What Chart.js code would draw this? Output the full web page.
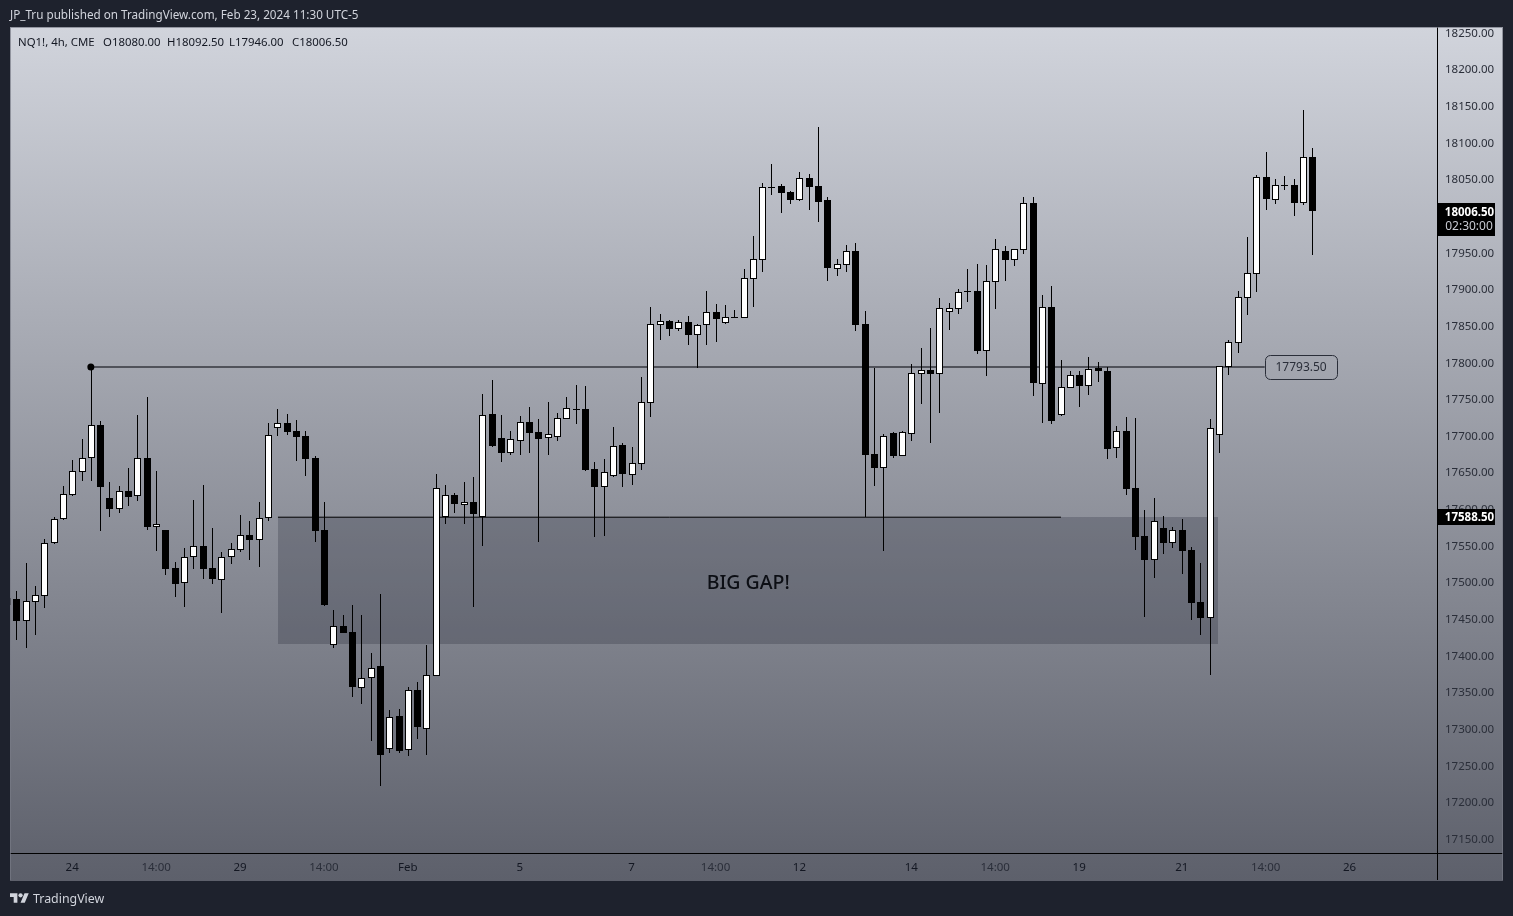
<!DOCTYPE html>
<html>
<head>
<meta charset="utf-8">
<title>NQ1! 4h</title>
<script src="https://cdn.jsdelivr.net/npm/chart.js@4"></script>
<style>
  html, body { margin: 0; padding: 0; background: #1e222d; overflow: hidden; }
  body { width: 1513px; height: 916px; position: relative; font-family: "Noto Sans", sans-serif; }
  canvas { position: absolute; left: 0; top: 0; }
  .txt { position: absolute; white-space: nowrap; line-height: 14px; }
  #header { left: 10px; top: 7px; font-size: 11.7px; color: #d1d4dc; }
  .legend { top: 35px; font-size: 11.4px; color: #131722; }
  #brand { left: 33px; top: 892px; font-size: 12.4px; color: #d1d4dc; }
  #logo { position: absolute; left: 10px; top: 893px; }
</style>
</head>
<body>
<canvas id="chart" width="1513" height="916"></canvas>
<div class="txt" id="header">JP_Tru published on TradingView.com, Feb 23, 2024 11:30 UTC-5</div>
<div class="txt legend" style="left:18px">NQ1!, 4h, CME</div>
<div class="txt legend" style="left:103px">O18080.00</div>
<div class="txt legend" style="left:167px">H18092.50</div>
<div class="txt legend" style="left:229px">L17946.00</div>
<div class="txt legend" style="left:292px">C18006.50</div>
<svg id="logo" width="19" height="10" viewBox="0 4 36 18"><path fill="#d1d4dc" d="M14 22H7V11H0V4h14v18zM28 22h-8l7.5-18h8L28 22z"/><circle fill="#d1d4dc" cx="20" cy="8" r="4"/></svg>
<div class="txt" id="brand">TradingView</div>
<script>
// =====================================================
// DATA
// =====================================================

const opens = [
  17478, 17477, 17447, 17473, 17481, 17553.5, 17586, 17619, 17650, 17669,
  17714.5, 17615, 17599.5, 17624.5, 17617.5, 17669, 17575, 17571, 17519, 17498.5,
  17534, 17549, 17519, 17503, 17534, 17543.5, 17564, 17557.5, 17587.5, 17710,
  17717, 17706, 17699.5, 17669, 17571, 17414, 17440, 17432, 17355.5, 17369,
  17385.5, 17272, 17317, 17271, 17352.5, 17299.5, 17372, 17589, 17619, 17605,
  17609.5, 17589, 17729.5, 17696.5, 17676, 17692.5, 17718.5, 17704.5, 17696.5, 17698,
  17722.5, 17736, 17736, 17654, 17629.5, 17644.5, 17687, 17646, 17661, 17744.5,
  17851, 17856, 17845.5, 17855, 17837, 17851, 17868.5, 17853.5, 17861.5, 17860.5,
  17913.5, 17939.5, 18039, 18040.5, 18032.5, 18021.5, 18051.5, 18040.5, 18021.5, 17927,
  17932.5, 17952, 17852, 17674.5, 17655.5, 17703.5, 17672, 17702, 17784, 17789.5,
  17784, 17868.5, 17872.5, 17897, 17897, 17815.5, 17909.5, 17952, 17939.5, 17953,
  18017.5, 17770.5, 17875.5, 17728, 17765, 17782.5, 17767.5, 17792, 17788, 17683,
  17706, 17628.5, 17563, 17530, 17574, 17553.5, 17571, 17543.5, 17473, 17451,
  17700.5, 17793.5, 17826, 17887.5, 17921, 18053, 18021.5, 18042, 18042, 18017.5,
  18080
];
const highs = [
  17480, 17488, 17526, 17494.5, 17559, 17589, 17631, 17666.5, 17695, 17793.5,
  17720, 17636.5, 17631, 17655.5, 17728, 17752.5, 17651.5, 17571.5, 17527.5, 17546.5,
  17612, 17632.5, 17574, 17541, 17553.5, 17591.5, 17583.5, 17609.5, 17717, 17736,
  17729.5, 17721, 17706, 17672, 17609.5, 17462, 17455, 17468.5, 17455, 17403.5,
  17483.5, 17325.5, 17327, 17356.5, 17363.5, 17414, 17647.5, 17632.5, 17621.5, 17636.5,
  17643.5, 17756.5, 17775.5, 17728, 17706, 17726.5, 17739, 17722.5, 17745.5, 17730.5,
  17752.5, 17769, 17767.5, 17664, 17668, 17711.5, 17689.5, 17684.5, 17780, 17875.5,
  17866, 17857.5, 17857.5, 17863, 17852, 17897, 17879.5, 17878, 17871.5, 17927,
  17972.5, 18044.5, 18070.5, 18043, 18033.5, 18059.5, 18057, 18121, 18025.5, 17941,
  17960, 17962.5, 17870, 17792, 17702, 17704.5, 17706, 17797.5, 17819.5, 17846.5,
  17887.5, 17881, 17900, 17927, 17934, 17932.5, 17968, 17958.5, 17955, 18025.5,
  18025.5, 17891.5, 17904, 17803, 17788, 17788, 17807, 17800.5, 17793.5, 17713,
  17725, 17724, 17598.5, 17615, 17590, 17575, 17586, 17548, 17526, 17722.5,
  17795, 17830.5, 17897, 17971, 18055.5, 18087, 18050, 18054, 18050, 18144,
  18092.5
];
const lows = [
  17467, 17421, 17410, 17427.5, 17464.5, 17552, 17584.5, 17617.5, 17638, 17638,
  17570, 17589, 17594.5, 17604, 17610.5, 17571, 17542.5, 17509.5, 17479.5, 17466,
  17518, 17504, 17497.5, 17458, 17524.5, 17541, 17530, 17520.5, 17583.5, 17699.5,
  17700.5, 17665, 17644.5, 17554.5, 17467.5, 17410, 17430, 17343, 17333.5, 17283,
  17221.5, 17266.5, 17266.5, 17262.5, 17285.5, 17264, 17371.5, 17579, 17594.5, 17579,
  17466, 17549, 17684.5, 17664, 17673.5, 17673.5, 17676, 17554.5, 17673.5, 17692.5,
  17722, 17715.5, 17651.5, 17561.5, 17563, 17644, 17629.5, 17632.5, 17653, 17725,
  17830.5, 17836, 17842.5, 17823.5, 17792, 17823.5, 17827.5, 17852, 17861, 17860,
  17875.5, 17923, 18028, 18003.5, 18016, 18020, 18007.5, 17991.5, 17911, 17917.5,
  17923, 17842.5, 17589, 17631, 17542.5, 17669, 17671.5, 17692.5, 17743, 17689.5,
  17730.5, 17844, 17866, 17882, 17811, 17781, 17872.5, 17911, 17931.5, 17947.5,
  17754, 17717, 17715.5, 17726.5, 17764.5, 17739, 17755.5, 17773, 17668, 17669,
  17619, 17543.5, 17452.5, 17505.5, 17538.5, 17546.5, 17511, 17448, 17427.5, 17373,
  17676, 17782.5, 17812.5, 17864.5, 17896, 18007.5, 18016, 18035, 18000, 18014.5,
  17946
];
const closes = [
  17469, 17447, 17474, 17482.5, 17553.5, 17586, 17620, 17651.5, 17669, 17714.5,
  17629.5, 17599.5, 17624.5, 17616, 17669, 17575, 17579, 17518, 17497.5, 17534,
  17549, 17518, 17504, 17534, 17545, 17564, 17557.5, 17587.5, 17700.5, 17717,
  17704.5, 17698, 17668, 17569.5, 17468.5, 17440, 17430.5, 17356.5, 17369, 17383,
  17264, 17316, 17269.5, 17352.5, 17302, 17373, 17628.5, 17619, 17606.5, 17609.5,
  17593, 17728, 17685.5, 17676, 17695, 17718.5, 17703.5, 17695, 17702, 17724,
  17737.5, 17736.5, 17653, 17629.5, 17650, 17685.5, 17647.5, 17662.5, 17745.5, 17852,
  17856, 17845.5, 17855, 17837, 17851, 17868.5, 17859, 17861.5, 17861.5, 17915,
  17941, 18039, 18039.5, 18031, 18021.5, 18051.5, 18039, 18018.5, 17928.5, 17934,
  17952, 17851, 17673.5, 17655.5, 17699.5, 17672, 17704.5, 17785.5, 17789.5, 17784,
  17874, 17874, 17896, 17897.5, 17815.5, 17911, 17954.5, 17939.5, 17954.5, 18017.5,
  17771.5, 17875.5, 17719.5, 17766, 17782.5, 17767.5, 17790.5, 17788, 17681.5, 17706,
  17627, 17561.5, 17530, 17583.5, 17553.5, 17571, 17542.5, 17471.5, 17451, 17710,
  17794.5, 17827.5, 17889, 17922, 18053, 18023, 18042, 18042.5, 18017.5, 18080,
  18006.5
];

const priceTicks = [
  18250, 18200, 18150, 18100, 18050, 18000, 17950, 17900, 17850, 17800, 17750, 17700,
  17650, 17600, 17550, 17500, 17450, 17400, 17350, 17300, 17250, 17200, 17150
];

const timeTickIndex = [7, 16, 25, 34, 43, 55, 67, 76, 85, 97, 106, 115, 126, 135, 144];
const timeTickLabels = ["24", "14:00", "29", "14:00", "Feb", "5", "7", "14:00", "12", "14", "14:00", "19", "21", "14:00", "26"];

// drawings, x is a bar index, y a price
const levelLineX = [9, 134.9];
const levelLineY = [17793.5, 17793.5];
const gapLineX = [29.07, 113.05];
const gapLineY = [17588.5, 17588.5];
const gapBoxX = [29.07, 129.9];
const gapBoxY = [17588.5, 17415];
const gapTextPos = [79.5, 17498];
const levelTagPos = [138.8, 17793.5];
const lastPrice = 18006.5;
const lineTag = 17588.5;

// =====================================================
// PLUGINS
// =====================================================

const backdrop = {
  id: "backdrop",
  beforeDraw(chart) {
    const { ctx } = chart;
    const g = ctx.createLinearGradient(0, 27, 0, 880);
    g.addColorStop(0, "#d1d4dc");
    g.addColorStop(1, "#5d606b");
    ctx.save();
    ctx.fillStyle = g;
    ctx.fillRect(10, 27, 1493, 853);
    ctx.restore();
  },
  beforeDatasetsDraw(chart) {
    const { ctx, scales: { x, y } } = chart;
    const left = x.getPixelForValue(gapBoxX[0]);
    const right = x.getPixelForValue(gapBoxX[1]);
    const top = y.getPixelForValue(gapBoxY[0]);
    const bottom = y.getPixelForValue(gapBoxY[1]);
    ctx.save();
    ctx.fillStyle = "rgba(40,44,58,0.28)";
    ctx.fillRect(Math.round(left), Math.round(top), Math.round(right - left), Math.round(bottom - top));
    ctx.restore();
  }
};

// candles are crisp in the original, so snap bars to whole pixels
const snapBars = {
  id: "snapBars",
  afterDatasetsUpdate(chart) {
    chart.data.datasets.forEach((ds, i) => {
      if (ds.type === "line") {
        return;
      }
      chart.getDatasetMeta(i).data.forEach(el => {
        const top = Math.round(Math.min(el.y, el.base));
        let bottom = Math.round(Math.max(el.y, el.base));
        if (bottom === top) {
          bottom = top + 1;
        }
        el.x = Math.round(el.x) + 0.5;
        el.y = top;
        el.base = bottom;
      });
    });
  }
};

const overlays = {
  id: "overlays",
  afterDraw(chart) {
    const { ctx, scales: { x, y } } = chart;
    ctx.save();

    // BIG GAP text
    ctx.fillStyle = "#0c0e14";
    ctx.font = '500 19.5px "Noto Sans"';
    ctx.textAlign = "center";
    ctx.textBaseline = "middle";
    ctx.fillText("BIG GAP!", x.getPixelForValue(gapTextPos[0]), y.getPixelForValue(gapTextPos[1]));

    // level tag
    const tx = x.getPixelForValue(levelTagPos[0]);
    const ty = y.getPixelForValue(levelTagPos[1]);
    ctx.beginPath();
    ctx.roundRect(Math.round(tx - 36) + 0.5, Math.round(ty - 12) + 0.5, 72, 24, 5);
    ctx.strokeStyle = "#2a2e39";
    ctx.lineWidth = 1;
    ctx.stroke();
    ctx.fillStyle = "#2a2e39";
    ctx.font = '12px "Noto Sans"';
    ctx.fillText(levelLineY[0].toFixed(2), tx, ty + 1);

    // price scale badges
    const ly = Math.round(y.getPixelForValue(lastPrice));
    ctx.fillStyle = "#000000";
    ctx.fillRect(1438, ly - 8, 57, 33);
    ctx.fillStyle = "#ffffff";
    ctx.font = 'bold 11.5px "Noto Sans"';
    ctx.fillText(lastPrice.toFixed(2), 1469.5, ly + 2);
    ctx.fillStyle = "#c8cad2";
    ctx.font = '12px "Noto Sans"';
    ctx.fillText("02:30:00", 1469, ly + 16);

    const gy = Math.round(y.getPixelForValue(lineTag));
    ctx.fillStyle = "#000000";
    ctx.fillRect(1438, gy - 8, 57, 16);
    ctx.fillStyle = "#ffffff";
    ctx.font = 'bold 11.5px "Noto Sans"';
    ctx.fillText(lineTag.toFixed(2), 1469.5, gy + 1);

    // axis lines run on through the scale corner
    ctx.fillStyle = "#000000";
    ctx.fillRect(10, 853, 1493, 1);
    ctx.fillRect(1437, 27, 1, 853);

    // panel edge
    ctx.strokeStyle = "rgba(120,123,134,0.7)";
    ctx.lineWidth = 1;
    ctx.strokeRect(10.5, 27.5, 1492, 853);
    ctx.restore();
  }
};

// =====================================================
// CHART
// =====================================================

const wickData = lows.map((low, i) => ({ x: i, y: [low, highs[i]] }));
const bodyData = opens.map((open, i) => ({ x: i, y: [open, closes[i]] }));
const bodyColors = opens.map((open, i) => (closes[i] >= open ? "#ffffff" : "#000000"));

new Chart(document.getElementById("chart"), {
  type: "bar",
  data: {
    datasets: [
      {
        label: "Body",
        data: bodyData,
        order: 1,
        grouped: false,
        barPercentage: 1,
        categoryPercentage: 1,
        maxBarThickness: 7,
        backgroundColor: bodyColors,
        borderColor: "#000000",
        borderWidth: 1,
        borderSkipped: false,
        inflateAmount: 0
      },
      {
        label: "Wick",
        data: wickData,
        order: 2,
        grouped: false,
        barPercentage: 1,
        categoryPercentage: 1,
        maxBarThickness: 1,
        backgroundColor: "#000000",
        borderWidth: 0,
        inflateAmount: 0
      },
      {
        type: "line",
        label: "Level",
        data: levelLineX.map((v, i) => ({ x: v, y: levelLineY[i] })),
        order: 3,
        borderColor: "#50525a",
        borderWidth: 2,
        pointRadius: [3.5, 0],
        pointBackgroundColor: "#000000",
        pointBorderWidth: 0
      },
      {
        type: "line",
        label: "Gap top",
        data: gapLineX.map((v, i) => ({ x: v, y: gapLineY[i] })),
        order: 4,
        borderColor: "#000000",
        borderWidth: 1,
        pointRadius: 0
      }
    ]
  },
  options: {
    responsive: false,
    animation: false,
    events: [],
    layout: { padding: { left: 10, top: 27, right: 10, bottom: 36 } },
    plugins: { legend: { display: false }, tooltip: { enabled: false } },
    scales: {
      x: {
        type: "linear",
        offset: false,
        min: 0.329,
        max: 153.38,
        grid: { display: false, drawTicks: false },
        border: { color: "#000000", width: 1 },
        afterBuildTicks(axis) {
          axis.ticks = timeTickIndex.map(v => ({ value: v }));
        },
        afterFit(axis) {
          axis.height = 27;
        },
        ticks: {
          autoSkip: false,
          maxRotation: 0,
          padding: 8,
          font: { family: "Noto Sans", size: 11.5 },
          color(ctx) {
            return timeTickLabels[ctx.index] === "14:00" ? "#2a2e39" : "#131722";
          },
          callback(value, index) {
            return timeTickLabels[index];
          }
        }
      },
      y: {
        type: "linear",
        position: "right",
        min: 17130.2,
        max: 18257.5,
        grid: { display: false, drawTicks: false },
        border: { color: "#000000", width: 1 },
        afterBuildTicks(axis) {
          axis.ticks = priceTicks.map(v => ({ value: v }));
        },
        afterFit(axis) {
          axis.width = 66;
        },
        ticks: {
          autoSkip: false,
          padding: 8,
          labelOffset: 1,
          font: { family: "Noto Sans", size: 11.5 },
          color: "#2a2e39",
          callback(value) {
            return value.toFixed(2);
          }
        }
      }
    }
  },
  plugins: [backdrop, snapBars, overlays]
});
</script>
</body>
</html>
